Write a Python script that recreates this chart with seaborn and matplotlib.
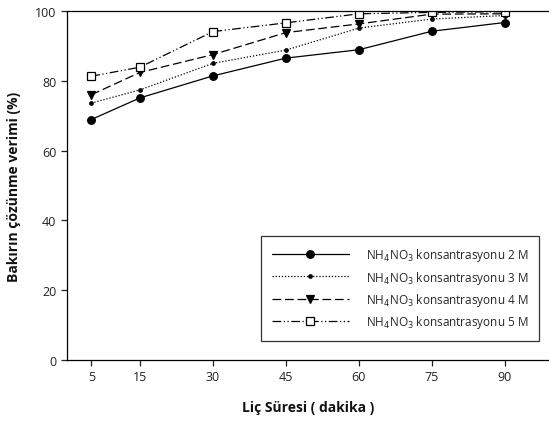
import matplotlib
matplotlib.use("Agg")
import matplotlib.pyplot as plt
import seaborn as sns
import pandas as pd

times = [5, 15, 30, 45, 60, 75, 90]
m2 = [68.9, 75.1, 81.4, 86.5, 88.9, 94.2, 96.7]
m3 = [73.6, 77.4, 85.0, 88.8, 95.1, 97.7, 98.7]
m4 = [76.0, 82.4, 87.5, 93.8, 96.3, 99.1, 99.2]
m5 = [81.3, 83.9, 94.1, 96.6, 99.2, 99.6, 99.8]
labels = [r"NH$_4$NO$_3$ konsantrasyonu 2 M",
          r"NH$_4$NO$_3$ konsantrasyonu 3 M",
          r"NH$_4$NO$_3$ konsantrasyonu 4 M",
          r"NH$_4$NO$_3$ konsantrasyonu 5 M"]
yticks = [0, 20, 40, 60, 80, 100]

sns.set_theme(style="ticks")
plt.rcParams['font.family'] = ['Open Sans', 'DejaVu Sans']

fig = plt.figure(figsize=(5.49, 4.27), dpi=100)
ax = fig.add_axes([0.122, 0.1546, 0.878, 0.8173])

styles = [
    dict(linestyle='-', marker='o', markersize=5.5, markerfacecolor='black', markeredgecolor='black'),
    dict(linestyle=(0, (1, 1.5)), marker='o', markersize=2.5, markerfacecolor='black', markeredgecolor='black'),
    dict(linestyle=(0, (7, 3)), marker='v', markersize=6, markerfacecolor='black', markeredgecolor='black'),
    dict(linestyle=(0, (7, 2, 1, 2, 1, 2)), marker='s', markersize=5.5, markerfacecolor='white', markeredgecolor='black'),
]
for vals, lab, st in zip([m2, m3, m4, m5], labels, styles):
    df = pd.DataFrame({"t": times, "v": vals})
    sns.lineplot(data=df, x="t", y="v", ax=ax, color='black', linewidth=0.9,
                 label=lab, markeredgewidth=0.9, **st)

ax.set_xlim(0, 99.1)
ax.set_ylim(0, 100)
ax.set_xticks(times)
ax.set_xticklabels([str(t) for t in times])
ax.set_yticks(yticks)
ax.tick_params(axis='both', labelsize=9, colors='#222222', length=4, width=0.9)
for s in ['left', 'bottom', 'top']:
    ax.spines[s].set_color('black')
    ax.spines[s].set_linewidth(0.9)
ax.spines['right'].set_visible(False)
ax.set_xlabel("Liç Süresi ( dakika )", fontsize=10, fontweight='bold', labelpad=12, color='#111111')
ax.set_ylabel("Bakırın çözünme verimi (%)", fontsize=10, fontweight='bold', labelpad=10, color='#111111')

leg = ax.legend(loc='lower right', bbox_to_anchor=(0.98, 0.055), fontsize=8.5,
                handlelength=6.5, frameon=True, fancybox=False, edgecolor='black',
                borderpad=0.9, labelspacing=0.45, handletextpad=1.5, borderaxespad=0)
leg.get_frame().set_linewidth(0.9)

fig.savefig("out.png", dpi=100)
